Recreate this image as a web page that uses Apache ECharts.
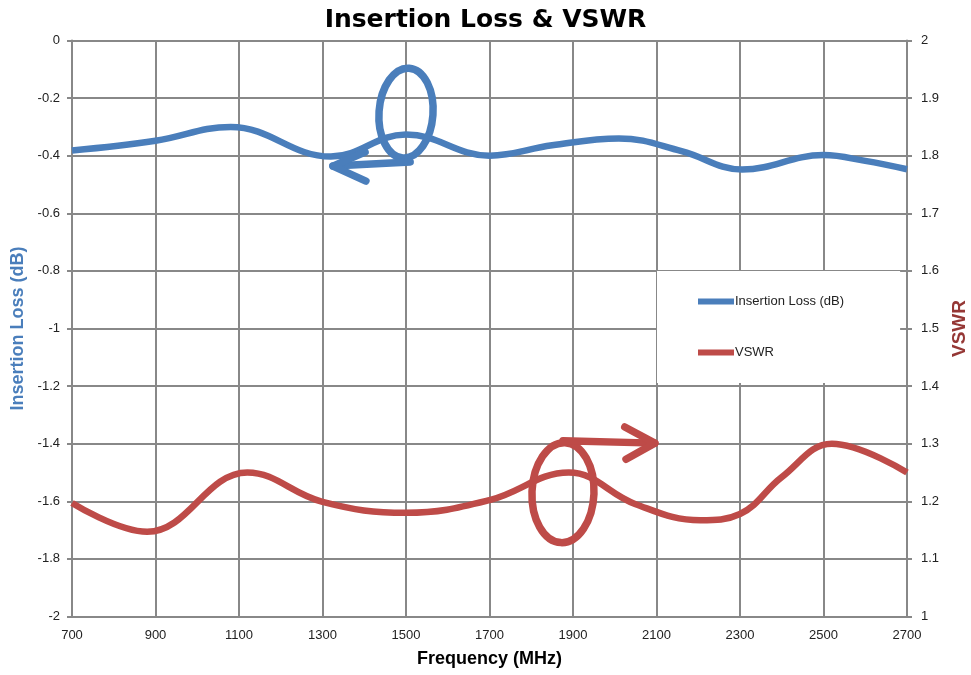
<!DOCTYPE html>
<html>
<head>
<meta charset="utf-8">
<title>Insertion Loss & VSWR</title>
<script src="https://cdn.jsdelivr.net/npm/echarts@6/dist/echarts.min.js"></script>
<style>
  html, body { margin: 0; padding: 0; background: #fff; }
  #chart { width: 971px; height: 675px; }
</style>
</head>
<body>
<div id="chart"></div>
<script>
// Insertion Loss (dB), left axis: frequencies (MHz) and values
const lossFreqs = [700, 900, 1080, 1320, 1500, 1700, 1850, 2010, 2160, 2305, 2500, 2600, 2700]
const insertionLoss = [-0.382, -0.348, -0.300, -0.403, -0.326, -0.400, -0.364, -0.340, -0.384, -0.448, -0.398, -0.418, -0.447]

// VSWR, right axis
const vswrFreqs = [700, 880, 1120, 1300, 1500, 1700, 1890, 2050, 2205, 2300, 2400, 2520, 2700]
const vswr = [1.197, 1.147, 1.250, 1.199, 1.180, 1.202, 1.250, 1.195, 1.167, 1.178, 1.242, 1.300, 1.250]

const blue = '#4a7ebb'
const red = '#be4b48'
const gridGray = '#888888'

const chart = echarts.init(document.getElementById('chart'))

const option = {
    backgroundColor: '#ffffff',
    animation: false,
    title: {
        text: 'Insertion Loss & VSWR',
        left: 'center',
        top: 3,
        textStyle: {
            fontFamily: 'DejaVu Sans',
            fontWeight: 'bold',
            fontSize: 25,
            color: '#000'
        }
    },
    grid: {
        left: 72,
        right: 64,
        top: 40.5,
        bottom: 58.5,
        outerBoundsMode: 'none',
        containLabel: false
    },
    legend: {
        orient: 'vertical',
        left: 657,
        top: 271,
        padding: [24, 56, 24, 41],
        itemGap: 38,
        itemWidth: 36,
        itemHeight: 6,
        icon: 'rect',
        backgroundColor: '#ffffff',
        textStyle: {
            fontFamily: 'Liberation Sans',
            fontSize: 13,
            color: '#222',
            padding: [0, 0, 0, -4]
        },
        data: ['Insertion Loss (dB)', 'VSWR']
    },
    xAxis: {
        type: 'value',
        min: 700,
        max: 2700,
        interval: 200,
        name: 'Frequency (MHz)',
        nameLocation: 'middle',
        nameGap: 34,
        nameTextStyle: {
            fontFamily: 'Liberation Sans',
            fontWeight: 'bold',
            fontSize: 18,
            color: '#000'
        },
        axisLine: { lineStyle: { color: gridGray, width: 2 } },
        axisTick: { show: true, length: 5, lineStyle: { color: gridGray, width: 2 } },
        axisLabel: {
            margin: 12,
            fontFamily: 'Liberation Sans',
            fontSize: 13,
            color: '#222',
            formatter: v => String(v)
        },
        splitLine: { show: true, lineStyle: { color: gridGray, width: 2 } }
    },
    yAxis: [
        {
            type: 'value',
            min: -2,
            max: 0,
            interval: 0.2,
            name: 'Insertion Loss (dB)',
            nameLocation: 'middle',
            nameRotate: 90,
            nameGap: 40,
            nameTextStyle: {
                fontFamily: 'Liberation Sans',
                fontWeight: 'bold',
                fontSize: 18,
                color: blue
            },
            axisLine: { show: true, lineStyle: { color: gridGray, width: 2 } },
            axisTick: { show: true, length: 5, lineStyle: { color: gridGray, width: 2 } },
            axisLabel: {
                margin: 12,
                fontFamily: 'Liberation Sans',
                fontSize: 13,
                color: '#222'
            },
            splitLine: { show: true, lineStyle: { color: gridGray, width: 2 } }
        },
        {
            type: 'value',
            min: 1,
            max: 2,
            interval: 0.1,
            position: 'right',
            name: 'VSWR',
            nameLocation: 'middle',
            nameRotate: 90,
            nameGap: 42,
            nameTextStyle: {
                fontFamily: 'Liberation Sans',
                fontWeight: 'bold',
                fontSize: 19,
                color: '#953735'
            },
            axisLine: { show: true, lineStyle: { color: gridGray, width: 2 } },
            axisTick: { show: true, length: 5, lineStyle: { color: gridGray, width: 2 } },
            axisLabel: {
                margin: 14,
                fontFamily: 'Liberation Sans',
                fontSize: 13,
                color: '#222'
            },
            splitLine: { show: false }
        }
    ],
    series: [
        {
            name: 'Insertion Loss (dB)',
            type: 'line',
            yAxisIndex: 0,
            data: lossFreqs.map((f, i) => [f, insertionLoss[i]]),
            smooth: 0.4,
            showSymbol: false,
            symbol: 'none',
            itemStyle: { color: blue },
            lineStyle: { color: blue, width: 6.5 }
        },
        {
            name: 'VSWR',
            type: 'line',
            yAxisIndex: 1,
            data: vswrFreqs.map((f, i) => [f, vswr[i]]),
            smooth: 0.4,
            showSymbol: false,
            symbol: 'none',
            itemStyle: { color: red },
            lineStyle: { color: red, width: 6.5 }
        }
    ]
}

chart.setOption(option)

// hand-drawn annotations, placed in data space
function px(freq, val, axis) {
    return chart.convertToPixel({ xAxisIndex: 0, yAxisIndex: axis }, [freq, val])
}

function stroke(color) {
    return { fill: null, stroke: color, lineWidth: 7.5, lineCap: 'round', lineJoin: 'round' }
}

const blueCenter = px(1500, -0.252, 0)
const redCenter = px(1876, 1.215, 1)

chart.setOption({
    graphic: [
        {
            type: 'ellipse',
            z: 100,
            x: blueCenter[0],
            y: blueCenter[1],
            rotation: -0.07,
            shape: { cx: 0, cy: 0, rx: 27, ry: 45 },
            style: stroke(blue)
        },
        {
            type: 'polyline',
            z: 100,
            shape: { points: [px(1510, -0.422, 0), px(1325, -0.436, 0)] },
            style: stroke(blue)
        },
        {
            type: 'polyline',
            z: 100,
            shape: { points: [px(1402, -0.387, 0), px(1325, -0.436, 0), px(1404, -0.488, 0)] },
            style: stroke(blue)
        },
        {
            type: 'ellipse',
            z: 100,
            x: redCenter[0],
            y: redCenter[1],
            rotation: -0.04,
            shape: { cx: 0, cy: 0, rx: 31, ry: 50 },
            style: stroke(red)
        },
        {
            type: 'polyline',
            z: 100,
            shape: { points: [px(1876, 1.305, 1), px(2096, 1.301, 1)] },
            style: stroke(red)
        },
        {
            type: 'polyline',
            z: 100,
            shape: { points: [px(2024, 1.329, 1), px(2096, 1.301, 1), px(2027, 1.273, 1)] },
            style: stroke(red)
        }
    ]
})

window.addEventListener('resize', () => chart.resize())
</script>
</body>
</html>
